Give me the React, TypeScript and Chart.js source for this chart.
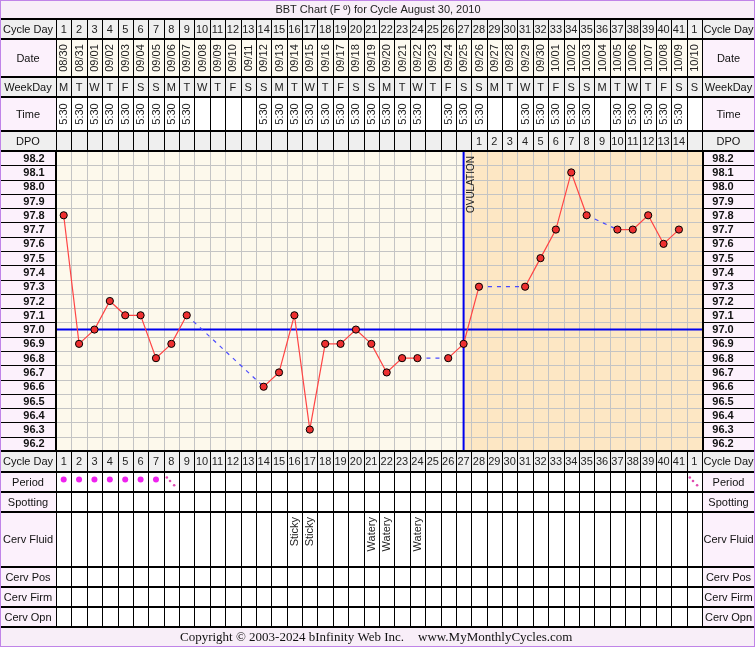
import React, { useEffect, useRef } from 'react';
import { Chart, registerables } from 'chart.js';
Chart.register(...registerables);

const W = 755;
const H = 647;

const title = 'BBT Chart (F º) for Cycle August 30, 2010';
const copyrightLeft = 'Copyright © 2003-2024 bInfinity Web Inc.';
const copyrightRight = 'www.MyMonthlyCycles.com';

const cycleDays = ['1','2','3','4','5','6','7','8','9','10','11','12','13','14','15','16','17','18','19','20','21','22','23','24','25','26','27','28','29','30','31','32','33','34','35','36','37','38','39','40','41','1'];
const dates = ['08/30','08/31','09/01','09/02','09/03','09/04','09/05','09/06','09/07','09/08','09/09','09/10','09/11','09/12','09/13','09/14','09/15','09/16','09/17','09/18','09/19','09/20','09/21','09/22','09/23','09/24','09/25','09/26','09/27','09/28','09/29','09/30','10/01','10/02','10/03','10/04','10/05','10/06','10/07','10/08','10/09','10/10'];
const weekdays = ['M','T','W','T','F','S','S','M','T','W','T','F','S','S','M','T','W','T','F','S','S','M','T','W','T','F','S','S','M','T','W','T','F','S','S','M','T','W','T','F','S','S'];
const times = ['5:30','5:30','5:30','5:30','5:30','5:30','5:30','5:30','5:30','','','','','5:30','5:30','5:30','5:30','5:30','5:30','5:30','5:30','5:30','5:30','5:30','','5:30','5:30','5:30','','','5:30','5:30','5:30','5:30','5:30','','5:30','5:30','5:30','5:30','5:30',''];
const dpo = ['','','','','','','','','','','','','','','','','','','','','','','','','','','','1','2','3','4','5','6','7','8','9','10','11','12','13','14',''];
const temps = [97.8,96.9,97.0,97.2,97.1,97.1,96.8,96.9,97.1,null,null,null,null,96.6,96.7,97.1,96.3,96.9,96.9,97.0,96.9,96.7,96.8,96.8,null,96.8,96.9,97.3,null,null,97.3,97.5,97.7,98.1,97.8,null,97.7,97.7,97.8,97.6,97.7,null];
const period = ['P','P','P','P','P','P','P','S','','','','','','','','','','','','','','','','','','','','','','','','','','','','','','','','','','S'];
const spotting = ['','','','','','','','','','','','','','','','','','','','','','','','','','','','','','','','','','','','','','','','','',''];
const cervFluid = ['','','','','','','','','','','','','','','','Sticky','Sticky','','','','Watery','Watery','','Watery','','','','','','','','','','','','','','','','','',''];
const tempTicks = [98.2,98.1,98.0,97.9,97.8,97.7,97.6,97.5,97.4,97.3,97.2,97.1,97.0,96.9,96.8,96.7,96.6,96.5,96.4,96.3,96.2];
const coverline = 97.0;
const ovulationDay = 27;

const FONT = '"Liberation Sans", Arial, sans-serif';
const SERIF = '"Liberation Serif", "Times New Roman", serif';
const C = {
  gray: '#efefef',
  pink: '#fcf1fc',
  cream: '#fdf9ec',
  orange: '#fde7c4',
  dateBg: '#fdfaf0',
  white: '#ffffff',
  lav: '#f8eef8',
  border: '#c084e8',
  grid: '#c4c4c4',
  text: '#222222',
};

export default function App() {
  const ref = useRef<HTMLCanvasElement>(null);

  useEffect(() => {
    const canvas = ref.current!;
    const n = cycleDays.length;

    const hline = (ctx: CanvasRenderingContext2D, x1: number, x2: number, y: number, w: number, color: string) => {
      ctx.save();
      ctx.strokeStyle = color;
      ctx.lineWidth = w;
      ctx.beginPath();
      const yy = w % 2 === 1 ? Math.round(y) + 0.5 : Math.round(y);
      ctx.moveTo(x1, yy);
      ctx.lineTo(x2, yy);
      ctx.stroke();
      ctx.restore();
    };
    const vline = (ctx: CanvasRenderingContext2D, x: number, y1: number, y2: number, w: number, color: string) => {
      ctx.save();
      ctx.strokeStyle = color;
      ctx.lineWidth = w;
      ctx.beginPath();
      const xx = w % 2 === 1 ? Math.round(x) + 0.5 : Math.round(x);
      ctx.moveTo(xx, y1);
      ctx.lineTo(xx, y2);
      ctx.stroke();
      ctx.restore();
    };

    const tablePlugin = {
      id: 'bbtTable',
      beforeDraw(chart: any) {
        const ctx: CanvasRenderingContext2D = chart.ctx;
        ctx.save();
        ctx.fillStyle = '#ffffff';
        ctx.fillRect(0, 0, W, H);
        ctx.restore();
      },
      beforeDatasetsDraw(chart: any) {
        const ctx: CanvasRenderingContext2D = chart.ctx;
        const { left, right, top, bottom } = chart.chartArea;
        const x = chart.scales.x;
        const y = chart.scales.y;
        const xo = x.getPixelForValue(ovulationDay);
        ctx.save();
        ctx.fillStyle = C.cream;
        ctx.fillRect(left, top, xo - left, bottom - top);
        ctx.fillStyle = C.orange;
        ctx.fillRect(xo, top, right - xo, bottom - top);
        ctx.restore();
        for (let k = 1; k < n; k++) {
          vline(ctx, x.getPixelForValue(k + 0.5), top, bottom, 1, C.grid);
        }
        for (let i = 0; i < tempTicks.length - 1; i++) {
          const v = tempTicks[i] - 0.05;
          hline(ctx, left, right, y.getPixelForValue(v), 1, C.grid);
        }
      },
      afterDatasetsDraw(chart: any) {
        const ctx: CanvasRenderingContext2D = chart.ctx;
        const { top } = chart.chartArea;
        const x = chart.scales.x;
        const xo = x.getPixelForValue(ovulationDay);
        ctx.save();
        ctx.translate(xo + 7.5, top + 5);
        ctx.rotate(-Math.PI / 2);
        ctx.font = `10px ${FONT}`;
        ctx.fillStyle = C.text;
        ctx.textAlign = 'right';
        ctx.textBaseline = 'middle';
        ctx.fillText('OVULATION', 0, 0);
        ctx.restore();
      },
      afterDraw(chart: any) {
        const ctx: CanvasRenderingContext2D = chart.ctx;
        const { left, right, top, bottom } = chart.chartArea;
        const x = chart.scales.x;
        const y = chart.scales.y;
        const edge = (k: number) => x.getPixelForValue(k + 0.5);
        const center = (i: number) => x.getPixelForValue(i + 1);

        ctx.save();
        ctx.fillStyle = C.lav;
        ctx.fillRect(0, 0, W, 19);
        ctx.fillRect(0, H - 20, W, 20);
        ctx.fillStyle = C.text;
        ctx.font = `11px ${FONT}`;
        ctx.textAlign = 'center';
        ctx.textBaseline = 'middle';
        ctx.fillText(title, 378, 10);
        ctx.font = `13px ${SERIF}`;
        ctx.textAlign = 'left';
        ctx.fillStyle = '#111';
        ctx.fillText(copyrightLeft, 180, H - 9.5);
        ctx.fillText(copyrightRight, 418, H - 9.5);
        ctx.restore();

        type Row = { h: number; label: string; bg: string; labelBg: string; values: string[]; kind: string };
        const headerRows: Row[] = [
          { h: 20, label: 'Cycle Day', bg: C.gray, labelBg: C.gray, values: cycleDays, kind: 'text' },
          { h: 38, label: 'Date', bg: C.dateBg, labelBg: C.pink, values: dates, kind: 'vcenter' },
          { h: 20, label: 'WeekDay', bg: C.gray, labelBg: C.gray, values: weekdays, kind: 'text' },
          { h: 34, label: 'Time', bg: C.white, labelBg: C.pink, values: times, kind: 'vcenter' },
          { h: 20, label: 'DPO', bg: C.gray, labelBg: C.gray, values: dpo, kind: 'text' },
        ];
        const footerRows: Row[] = [
          { h: 21, label: 'Cycle Day', bg: C.gray, labelBg: C.gray, values: cycleDays, kind: 'text' },
          { h: 20, label: 'Period', bg: C.white, labelBg: C.pink, values: period, kind: 'period' },
          { h: 20, label: 'Spotting', bg: C.white, labelBg: C.pink, values: spotting, kind: 'text' },
          { h: 55, label: 'Cerv Fluid', bg: C.white, labelBg: C.pink, values: cervFluid, kind: 'vtop' },
          { h: 20, label: 'Cerv Pos', bg: C.white, labelBg: C.pink, values: [], kind: 'text' },
          { h: 20, label: 'Cerv Firm', bg: C.white, labelBg: C.pink, values: [], kind: 'text' },
          { h: 20, label: 'Cerv Opn', bg: C.white, labelBg: C.pink, values: [], kind: 'text' },
        ];

        const drawRow = (r: Row, y0: number) => {
          const y1 = y0 + r.h;
          const cy = (y0 + y1) / 2;
          ctx.save();
          ctx.fillStyle = r.labelBg;
          ctx.fillRect(0, y0, left, r.h);
          ctx.fillRect(right, y0, W - right, r.h);
          ctx.fillStyle = r.bg;
          ctx.fillRect(left, y0, right - left, r.h);
          ctx.fillStyle = '#111';
          ctx.font = `11px ${FONT}`;
          ctx.textAlign = 'center';
          ctx.textBaseline = 'middle';
          ctx.fillText(r.label, left / 2, cy + 0.5);
          ctx.fillText(r.label, (right + W) / 2, cy + 0.5);
          ctx.restore();
          for (let i = 0; i < n; i++) {
            const v = r.values[i];
            if (!v) continue;
            const cx = center(i);
            ctx.save();
            ctx.fillStyle = C.text;
            ctx.font = `11px ${FONT}`;
            if (r.kind === 'text') {
              ctx.textAlign = 'center';
              ctx.textBaseline = 'middle';
              ctx.fillText(v, cx, cy + 0.5);
            } else if (r.kind === 'vcenter') {
              ctx.translate(cx + 0.5, cy);
              ctx.rotate(-Math.PI / 2);
              ctx.textAlign = 'center';
              ctx.textBaseline = 'middle';
              ctx.fillText(v, 0, 0);
            } else if (r.kind === 'vtop') {
              ctx.translate(cx + 0.5, y0 + 5);
              ctx.rotate(-Math.PI / 2);
              ctx.textAlign = 'right';
              ctx.textBaseline = 'middle';
              ctx.fillText(v, 0, 0);
            } else if (r.kind === 'period') {
              if (v === 'P') {
                ctx.fillStyle = '#ee22ee';
                ctx.beginPath();
                ctx.arc(cx, cy - 2.5, 3, 0, Math.PI * 2);
                ctx.fill();
              } else if (v === 'S') {
                ctx.fillStyle = '#e04cb0';
                const offs = [[-4.5, -4.5], [-1.3, -1], [2.8, 3.2]];
                for (const [dx, dy] of offs) {
                  ctx.beginPath();
                  ctx.arc(cx + dx, cy + dy, 1.3, 0, Math.PI * 2);
                  ctx.fill();
                }
              }
            }
            ctx.restore();
          }
          for (let k = 0; k <= n; k++) vline(ctx, edge(k), y0, y1, 1, '#000');
        };

        let yy = 19;
        for (const r of headerRows) {
          drawRow(r, yy);
          yy += r.h;
        }
        yy = bottom;
        for (const r of footerRows) {
          drawRow(r, yy);
          yy += r.h;
        }

        ctx.save();
        ctx.fillStyle = C.pink;
        ctx.fillRect(0, top, left, bottom - top);
        ctx.fillRect(right, top, W - right, bottom - top);
        ctx.fillStyle = '#111';
        ctx.font = `bold 11px ${FONT}`;
        ctx.textAlign = 'center';
        ctx.textBaseline = 'middle';
        for (const t of tempTicks) {
          const py = y.getPixelForValue(t);
          ctx.fillText(t.toFixed(1), 34, py + 0.5);
          ctx.fillText(t.toFixed(1), 723, py + 0.5);
        }
        ctx.restore();
        for (let i = 0; i < tempTicks.length - 1; i++) {
          const py = y.getPixelForValue(tempTicks[i] - 0.05);
          hline(ctx, 0, left, py, 1, '#000');
          hline(ctx, right, W, py, 1, '#000');
        }
        vline(ctx, left - 0.5, top, bottom, 2, '#000');
        vline(ctx, right + 0.5, top, bottom, 2, '#000');

        const seps: number[] = [19];
        let s = 19;
        for (const r of headerRows) { s += r.h; seps.push(s); }
        s = bottom;
        seps.push(s);
        for (const r of footerRows) { s += r.h; seps.push(s); }
        for (const sy of seps) hline(ctx, 0, W, sy, 2, '#000');

        ctx.save();
        ctx.strokeStyle = C.border;
        ctx.lineWidth = 2;
        ctx.strokeRect(0, 0, W, H);
        ctx.restore();
      },
    };

    const gapSeg = (c: any) => !!(c.p0.skip || c.p1.skip);

    const chart = new Chart(canvas, {
      type: 'line',
      data: {
        datasets: [
          {
            label: 'BBT',
            data: temps.map((t, i) => ({ x: i + 1, y: t })) as any,
            spanGaps: true,
            borderColor: '#ff4444',
            borderWidth: 1.2,
            pointRadius: 3.6,
            pointBackgroundColor: '#ee3030',
            pointBorderColor: '#000000',
            pointBorderWidth: 1,
            order: 0,
            segment: {
              borderColor: (c: any) => (gapSeg(c) ? '#4a4aff' : '#ff4444'),
              borderDash: (c: any) => (gapSeg(c) ? [4, 5] : undefined),
            },
          } as any,
          {
            label: 'Coverline',
            data: [{ x: 0.5, y: coverline }, { x: 42.5, y: coverline }],
            borderColor: '#0000ee',
            borderWidth: 2,
            pointRadius: 0,
            order: 1,
          },
          {
            label: 'Ovulation',
            data: [{ x: ovulationDay, y: 96.15 }, { x: ovulationDay, y: 98.25 }],
            borderColor: '#0000ee',
            borderWidth: 2,
            pointRadius: 0,
            order: 1,
          },
        ],
      },
      options: {
        responsive: false,
        animation: false,
        devicePixelRatio: 1,
        events: [],
        layout: { padding: { left: 56, right: 53, top: 151, bottom: 196 } },
        scales: {
          x: { type: 'linear', min: 0.5, max: 42.5, display: false },
          y: { type: 'linear', min: 96.15, max: 98.25, display: false },
        },
        plugins: { legend: { display: false }, tooltip: { enabled: false } },
      },
      plugins: [tablePlugin],
    });
    return () => chart.destroy();
  }, []);

  return (
    <div style={{ position: 'fixed', left: 0, top: 0, width: W, height: H }}>
      <canvas ref={ref} width={W} height={H} style={{ width: W, height: H, display: 'block' }} />
    </div>
  );
}
